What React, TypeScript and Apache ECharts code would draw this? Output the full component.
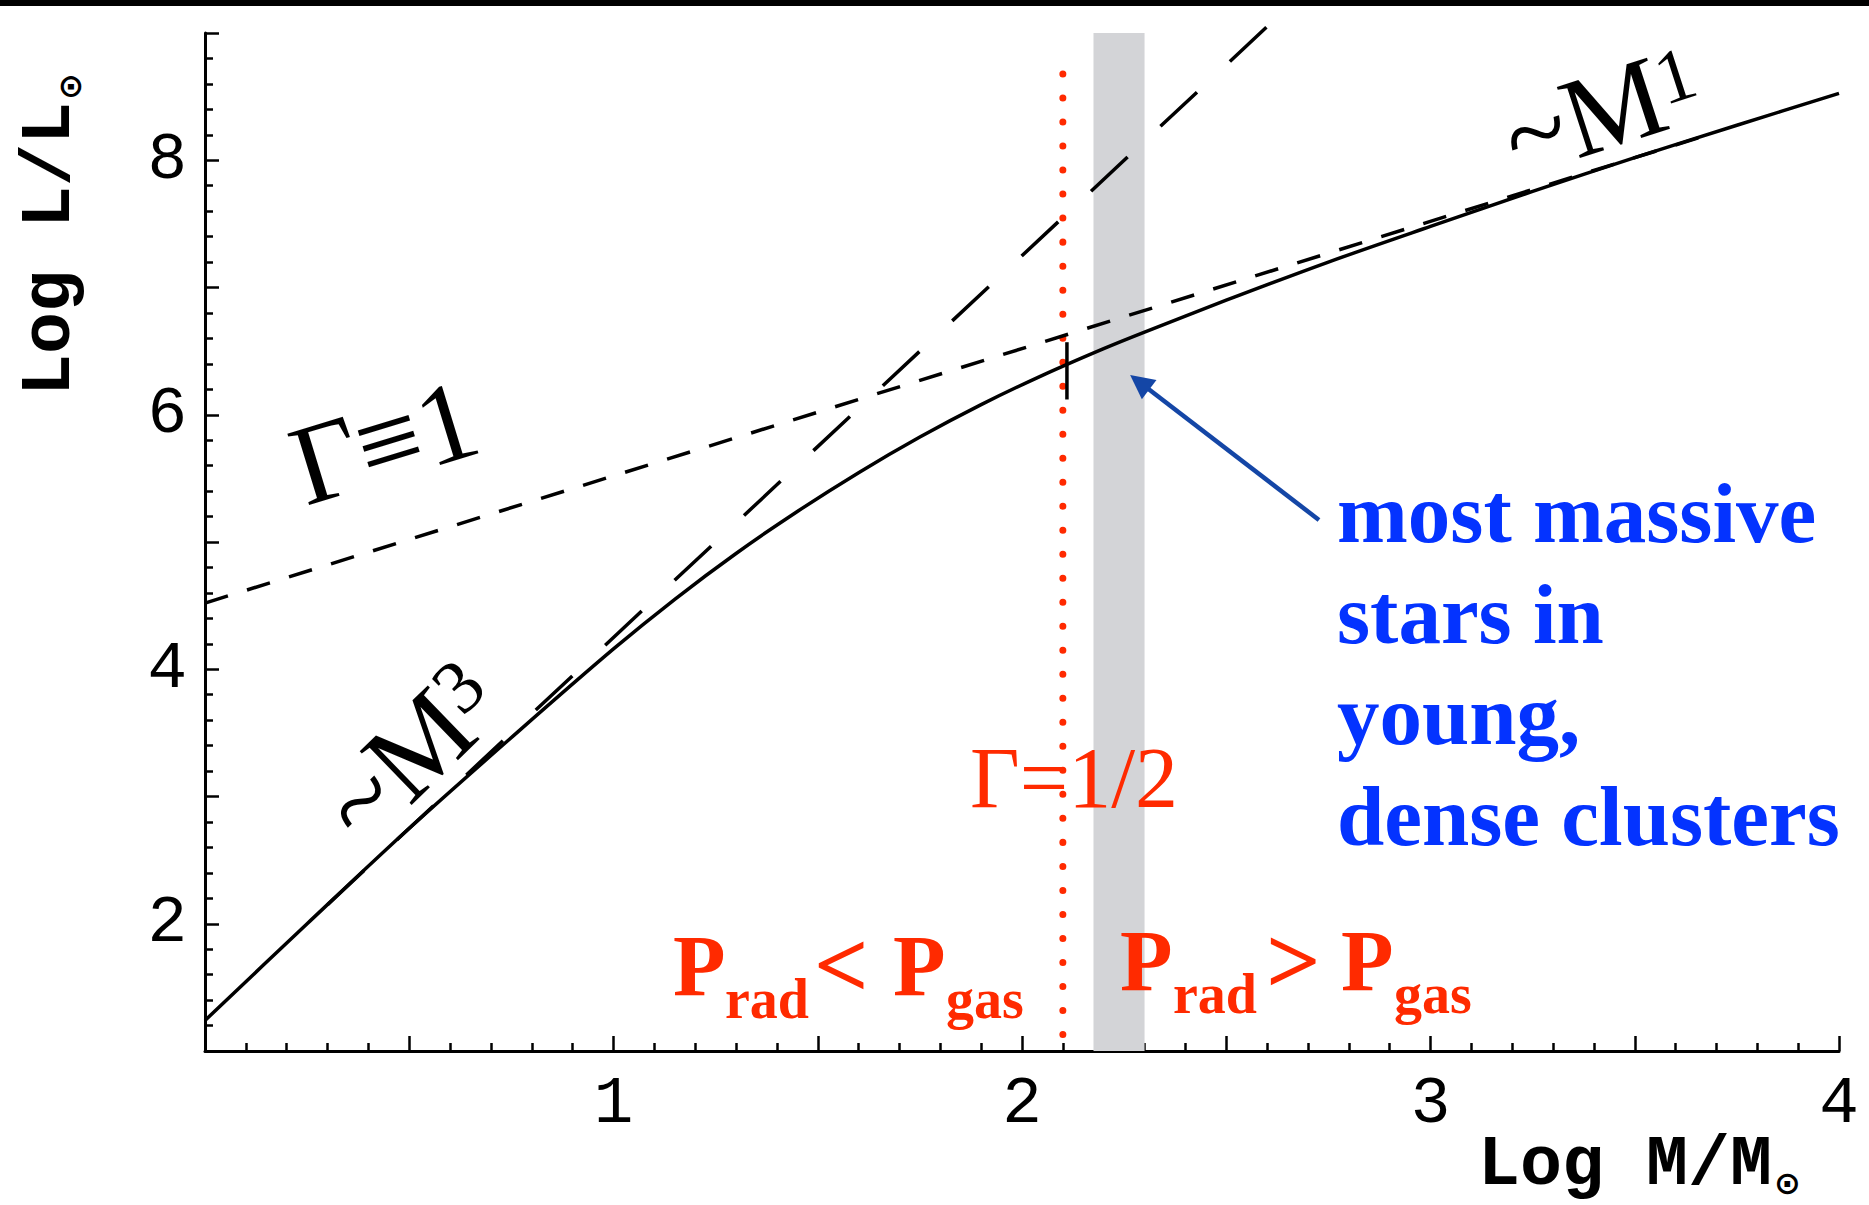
import React, { useEffect, useRef } from "react";
import * as echarts from "echarts";

const W = 1869;
const H = 1205;

// Mass–luminosity relation: log M/Msun vs log L/Lsun
const massLog = [0, 0.25, 0.5, 0.77, 1.0, 1.15, 1.3, 1.45, 1.6, 1.75, 1.9, 2.05, 2.2, 2.3, 2.5, 2.75, 3.0, 3.25, 3.5, 3.75, 4.0];
const lumLog = [1.24, 2.0, 2.75, 3.52, 4.16, 4.55, 4.91, 5.24, 5.545, 5.825, 6.08, 6.31, 6.52, 6.65, 6.9, 7.2, 7.48, 7.755, 8.02, 8.275, 8.525];

// Eddington limit, Γ = 1 (~M^1)
const eddMass = [0, 3.7];
const eddLum = [4.52, 8.22];

// ~M^3 power law
const powMass = [0.3, 2.6];
const powLum = [2.15, 9.05];

// Γ = 1/2 boundary (dotted)
const halfMass = 2.1;
const halfLum = [1.13, 8.68];

// short marker on the relation at the Γ = 1/2 point
const markMass = 2.11;
const markLum = [6.12, 6.57];

// mass range of the most massive stars in young, dense clusters
const bandMass = [2.175, 2.3];

// arrow pointing into the band
const arrowFrom = [2.727, 5.173];
const arrowTo = [2.288, 6.255];

const xTickLabels = [1, 2, 3, 4];
const yTickLabels = [2, 4, 6, 8];

const SERIF = '"Liberation Serif", "Times New Roman", Times, serif';
const MONO = '"Liberation Mono", "Courier New", Courier, monospace';
const SYM = '"DejaVu Sans", sans-serif';
const RED = "#ff2a00";
const BLUE = "#0433ff";

type TxtOpts = { family?: string; weight?: string; color?: string; shift?: number };

// text placed by its alphabetic baseline
function txt(text: string, x: number, baseline: number, size: number, o: TxtOpts = {}) {
  const family = o.family ?? SERIF;
  const shift = o.shift ?? (family === MONO ? 0.2665 : family === SYM ? 0.346 : 0.3375);
  return {
    type: "text",
    x,
    y: baseline - shift * size,
    z: 20,
    style: {
      text,
      fontSize: size,
      lineHeight: size,
      fontFamily: family,
      fontWeight: o.weight ?? "normal",
      fill: o.color ?? "#000",
      align: "left",
      verticalAlign: "middle",
    },
  };
}

const deg = (d: number) => (d * Math.PI) / 180;

export default function App() {
  const ref = useRef<HTMLDivElement>(null);

  useEffect(() => {
    document.body.style.margin = "0";
    if (!ref.current) return;
    const chart = echarts.init(ref.current, null, { renderer: "svg", width: W, height: H });

    const solid = massLog.map((m, i) => [m, lumLog[i]]);
    const edd = eddMass.map((m, i) => [m, eddLum[i]]);
    const pow = powMass.map((m, i) => [m, powLum[i]]);

    chart.setOption({
      animation: false,
      backgroundColor: "#fff",
      grid: { left: 205, right: 30, top: 33, bottom: 154, containLabel: false },
      xAxis: {
        type: "value",
        min: 0,
        max: 4,
        interval: 0.5,
        axisLine: { show: true, onZero: false, lineStyle: { color: "#000", width: 3 } },
        axisTick: { show: true, inside: true, length: 15, lineStyle: { color: "#000", width: 2.5 } },
        minorTick: { show: true, splitNumber: 5, length: 8, lineStyle: { color: "#000", width: 2.5 } },
        splitLine: { show: false },
        minorSplitLine: { show: false },
        axisLabel: {
          formatter: (v: number) => (xTickLabels.includes(v) ? String(v) : ""),
          fontFamily: MONO,
          fontSize: 66,
          color: "#000",
          margin: 20,
          showMaxLabel: true,
        },
      },
      yAxis: {
        type: "value",
        min: 1,
        max: 9,
        interval: 1,
        axisLine: { show: true, onZero: false, lineStyle: { color: "#000", width: 3 } },
        axisTick: { show: true, inside: true, length: 14, lineStyle: { color: "#000", width: 2.5 } },
        minorTick: { show: true, splitNumber: 5, length: 8, lineStyle: { color: "#000", width: 2.5 } },
        splitLine: { show: false },
        minorSplitLine: { show: false },
        axisLabel: {
          formatter: (v: number) => (yTickLabels.includes(v) ? String(v) : ""),
          fontFamily: MONO,
          fontSize: 66,
          color: "#000",
          margin: 18,
        },
      },
      series: [
        {
          name: "gamma-half",
          type: "line",
          z: 2,
          symbol: "none",
          data: [
            [halfMass, halfLum[0]],
            [halfMass, halfLum[1]],
          ],
          lineStyle: { color: RED, width: 7, type: [0.01, 24], cap: "round" },
          markArea: {
            silent: true,
            itemStyle: { color: "#d3d4d7", opacity: 1 },
            data: [[{ xAxis: bandMass[0] }, { xAxis: bandMass[1] }]],
          },
        },
        {
          name: "power-law",
          type: "line",
          z: 4,
          symbol: "none",
          clip: false,
          data: pow,
          lineStyle: { color: "#000", width: 3.5, type: [50, 45] },
        },
        {
          name: "eddington",
          type: "line",
          z: 4,
          symbol: "none",
          data: edd,
          lineStyle: { color: "#000", width: 3.5, type: [24, 20] },
        },
        {
          name: "relation",
          type: "line",
          z: 5,
          symbol: "none",
          smooth: 0.3,
          data: solid,
          lineStyle: { color: "#000", width: 3.5 },
        },
        {
          name: "marker",
          type: "line",
          z: 6,
          symbol: "none",
          data: [
            [markMass, markLum[0]],
            [markMass, markLum[1]],
          ],
          lineStyle: { color: "#000", width: 3.5 },
          markLine: {
            silent: true,
            symbol: ["none", "triangle"],
            symbolSize: 24,
            label: { show: false },
            emphasis: { disabled: true },
            lineStyle: { color: "#1446a6", width: 4.5, type: "solid" },
            data: [[{ coord: arrowFrom }, { coord: arrowTo }]],
          },
        },
      ],
      graphic: [
        { type: "rect", z: 30, shape: { x: 0, y: 0, width: W, height: 6 }, style: { fill: "#000" } },
        {
          type: "group",
          x: 69,
          y: 396,
          rotation: Math.PI / 2,
          children: [
            txt("Log L/L", 0, 0, 70, { family: MONO, weight: "bold" }),
            txt("⊙", 296, 12, 32, { family: SYM, weight: "bold" }),
          ],
        },
        {
          type: "group",
          x: 1478,
          y: 1184,
          children: [
            txt("Log M/M", 0, 0, 70, { family: MONO, weight: "bold" }),
            txt("⊙", 296, 10, 32, { family: SYM, weight: "bold" }),
          ],
        },
        { type: "group", x: 306, y: 506, rotation: deg(17), children: [txt("Γ≡1", 0, 0, 114)] },
        {
          type: "group",
          x: 365,
          y: 850,
          rotation: deg(44),
          children: [txt("~M", 0, 0, 114), txt("3", 162, -28, 76)],
        },
        {
          type: "group",
          x: 1518,
          y: 178,
          rotation: deg(18),
          children: [txt("~M", 0, 0, 114), txt("1", 162, -24, 76)],
        },
        txt("Γ=1/2", 970, 807, 86, { color: RED }),
        txt("P", 673, 995, 86, { color: RED, weight: "bold" }),
        txt("rad", 725, 1018, 56, { color: RED, weight: "bold" }),
        txt("<", 814, 997, 96, { color: RED, weight: "bold" }),
        txt("P", 893, 995, 86, { color: RED, weight: "bold" }),
        txt("gas", 946, 1018, 56, { color: RED, weight: "bold" }),
        txt("P", 1120, 990, 86, { color: RED, weight: "bold" }),
        txt("rad", 1173, 1013, 56, { color: RED, weight: "bold" }),
        txt(">", 1266, 993, 96, { color: RED, weight: "bold" }),
        txt("P", 1341, 990, 86, { color: RED, weight: "bold" }),
        txt("gas", 1394, 1013, 56, { color: RED, weight: "bold" }),
        txt("most massive", 1337, 542, 85, { color: BLUE, weight: "bold" }),
        txt("stars in", 1337, 643, 85, { color: BLUE, weight: "bold" }),
        txt("young,", 1337, 744, 85, { color: BLUE, weight: "bold" }),
        txt("dense clusters", 1337, 845, 85, { color: BLUE, weight: "bold" }),
      ],
    });

    return () => chart.dispose();
  }, []);

  return <div ref={ref} style={{ position: "fixed", left: 0, top: 0, width: W, height: H }} />;
}
